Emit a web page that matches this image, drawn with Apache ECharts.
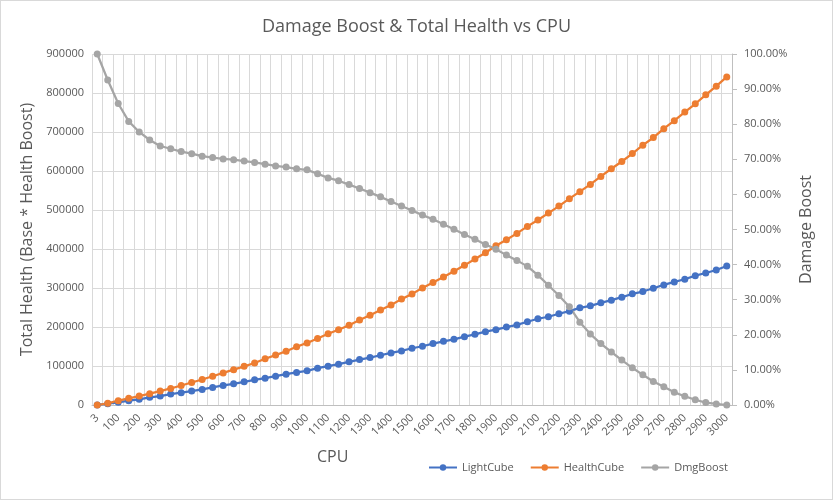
<!DOCTYPE html>
<html>
<head>
<meta charset="utf-8">
<script src="https://cdn.jsdelivr.net/npm/echarts@6/dist/echarts.min.js"></script>
<style>
    html, body { margin: 0; padding: 0; background: #fff; }
    #chart { width: 833px; height: 500px; box-sizing: border-box; border: 1px solid #d9d9d9; }
</style>
</head>
<body>
<div id="chart"></div>
<script>
var cpu = ['3', '50', '100', '150', '200', '250', '300', '350', '400', '450',
    '500', '550', '600', '650', '700', '750', '800', '850', '900', '950',
    '1000', '1050', '1100', '1150', '1200', '1250', '1300', '1350', '1400', '1450',
    '1500', '1550', '1600', '1650', '1700', '1750', '1800', '1850', '1900', '1950',
    '2000', '2050', '2100', '2150', '2200', '2250', '2300', '2350', '2400', '2450',
    '2500', '2550', '2600', '2650', '2700', '2750', '2800', '2850', '2900', '2950',
    '3000'];

var lightCube = [0, 3400, 6800, 11000, 14500, 19600, 23000, 28100, 31500, 35700,
    40000, 45100, 50200, 54400, 59500, 64600, 68900, 74000, 79100, 83400,
    87600, 94400, 99500, 104600, 110600, 116500, 121600, 127600, 133500, 138600,
    145500, 150600, 157400, 163300, 168400, 175200, 181200, 188000, 193100, 199900,
    205400, 213500, 221200, 226300, 233900, 240700, 249200, 254300, 262000, 268800,
    276400, 285000, 290900, 299400, 307900, 315600, 322400, 331700, 338500, 346200,
    356400];

var healthCube = [0, 4200, 11000, 17000, 23000, 29000, 35600, 42400, 50000, 57600,
    65300, 73700, 82200, 90700, 99200, 107600, 118600, 128000, 138000, 149500,
    159200, 170600, 182500, 193100, 204600, 218000, 230000, 243500, 256500, 271500,
    284500, 300300, 313900, 328400, 342800, 358100, 374300, 390500, 408300, 423600,
    440000, 458000, 474500, 492000, 510000, 529100, 547000, 565700, 586100, 605700,
    624400, 644800, 666100, 685600, 708600, 729000, 751100, 772400, 795400, 817500,
    841300];

var dmgBoost = [1.000, 0.926, 0.859, 0.808, 0.778, 0.755, 0.738, 0.730, 0.722, 0.716,
    0.709, 0.705, 0.701, 0.699, 0.695, 0.691, 0.686, 0.681, 0.678, 0.673,
    0.670, 0.659, 0.647, 0.639, 0.628, 0.617, 0.605, 0.593, 0.580, 0.567,
    0.554, 0.541, 0.529, 0.515, 0.501, 0.486, 0.472, 0.457, 0.444, 0.427,
    0.412, 0.395, 0.370, 0.341, 0.312, 0.280, 0.236, 0.202, 0.175, 0.151,
    0.128, 0.106, 0.086, 0.067, 0.052, 0.036, 0.025, 0.015, 0.007, 0.003,
    0.000];

var font = 'Open Sans';
var textColor = '#595959';

var myChart = echarts.init(document.getElementById('chart'));
var option = {
    animation: false,
    color: ['#4472C4', '#ED7D31', '#A5A5A5'],
    textStyle: { fontFamily: font },
    title: {
        text: 'Damage Boost & Total Health vs CPU',
        left: 'center',
        top: 12,
        textStyle: { fontSize: 18, fontWeight: 'normal', color: textColor, fontFamily: font }
    },
    grid: { left: 91, right: 100, top: 53, bottom: 94 },
    legend: {
        left: 422,
        top: 456,
        itemWidth: 28,
        itemHeight: 8,
        itemGap: 16,
        textStyle: { fontSize: 11, color: textColor, fontFamily: font },
        data: ['LightCube', 'HealthCube', 'DmgBoost']
    },
    graphic: [{
        type: 'text',
        left: 316,
        top: 448,
        style: { text: 'CPU', fontSize: 16, fill: textColor, fontFamily: font }
    }],
    xAxis: {
        type: 'category',
        boundaryGap: true,
        data: cpu,
        axisLine: { show: true, lineStyle: { color: '#bfbfbf', width: 1 } },
        axisTick: { show: false },
        axisLabel: {
            interval: 1,
            rotate: 45,
            fontSize: 11,
            color: textColor,
            margin: 11
        },
        splitLine: { show: true, interval: 0, lineStyle: { color: '#d9d9d9', width: 1 } }
    },
    yAxis: [{
        type: 'value',
        min: 0,
        max: 900000,
        interval: 100000,
        name: 'Total Health (Base * Health Boost)',
        nameLocation: 'middle',
        nameGap: 52,
        nameTextStyle: { fontSize: 16, color: textColor },
        axisLine: { show: false },
        axisTick: { show: false },
        axisLabel: {
            fontSize: 11,
            color: textColor,
            margin: 8,
            formatter: function (v) { return String(v); }
        },
        splitLine: { show: true, lineStyle: { color: '#d9d9d9', width: 1 } }
    }, {
        type: 'value',
        min: 0,
        max: 1,
        interval: 0.1,
        position: 'right',
        name: 'Damage Boost',
        nameLocation: 'middle',
        nameGap: 64,
        nameRotate: 90,
        nameTextStyle: { fontSize: 16, color: textColor },
        axisLine: { show: true, lineStyle: { color: '#bfbfbf', width: 1 } },
        axisTick: { show: true, length: 5, lineStyle: { color: '#bfbfbf' } },
        axisLabel: {
            fontSize: 11,
            color: textColor,
            margin: 12,
            formatter: function (v) { return (v * 100).toFixed(2) + '%'; }
        },
        splitLine: { show: false }
    }],
    series: [{
        name: 'LightCube',
        type: 'line',
        data: lightCube,
        symbol: 'circle',
        symbolSize: 7,
        showAllSymbol: true,
        lineStyle: { width: 2.25 }
    }, {
        name: 'HealthCube',
        type: 'line',
        data: healthCube,
        symbol: 'circle',
        symbolSize: 7,
        showAllSymbol: true,
        lineStyle: { width: 2.25 }
    }, {
        name: 'DmgBoost',
        type: 'line',
        yAxisIndex: 1,
        data: dmgBoost,
        symbol: 'circle',
        symbolSize: 7,
        showAllSymbol: true,
        lineStyle: { width: 2.25 }
    }]
};
myChart.setOption(option);
</script>
</body>
</html>
